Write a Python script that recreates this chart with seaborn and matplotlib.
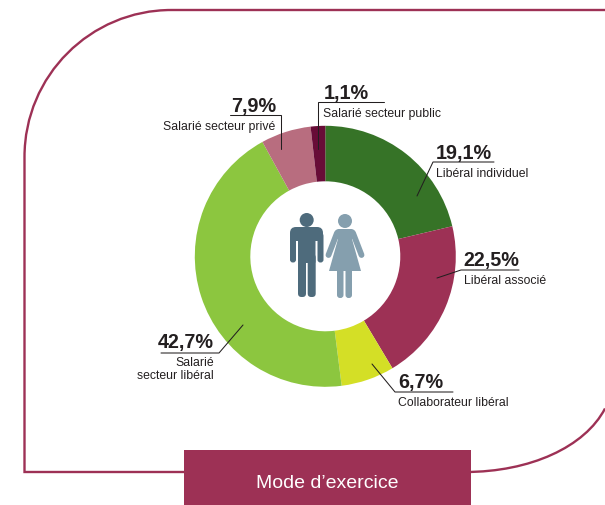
import seaborn as sns
import matplotlib.pyplot as plt
from matplotlib.patches import Circle, FancyBboxPatch, PathPatch, Polygon, Rectangle
from matplotlib.path import Path

# donut data, clockwise from 12 o'clock
# the drawn slices differ a little from the printed percentages, so both are kept
categories = ['Libéral individuel', 'Libéral associé', 'Collaborateur libéral',
              'Salarié secteur libéral', 'Salarié secteur privé', 'Salarié secteur public']
drawn_shares = [21.3, 20.1, 6.6, 44.0, 6.2, 1.8]
share_labels = ['19,1%', '22,5%', '6,7%', '42,7%', '7,9%', '1,1%']
colors = ['#367327', '#9d3155', '#d4df26', '#8cc63f', '#b86d7f', '#680c37']
title = 'Mode d\u2019exercice'

sns.set_theme(style='white')
plt.rcParams['font.family'] = ['Liberation Sans', 'DejaVu Sans']

W, H = 605, 506
CRIMSON = '#9d3155'
INK = '#231f20'
fs_value = 14.2
fs_name = 8.8
fig = plt.figure(figsize=(W / 100, H / 100), dpi=100)
ax = fig.add_axes([0, 0, 1, 1])

# y axis points down so everything is in pixels
cx, cy, R = 325.3, 257.3, 130.5
ax.pie(drawn_shares, colors=colors, startangle=-90, counterclock=True, center=(cx, cy),
       radius=R, frame=True, wedgeprops=dict(width=R - 75, linewidth=0))
ax.set_xlim(0, W)
ax.set_ylim(H, 0)
ax.axis('off')

# frame: two separate paths, agg drops line segments that leave the canvas
k = 0.5523
r1 = 147
verts = [(190, 473), (24.5, 473), (24.5, 11 + r1),
         (24.5, 11 + r1 - k * r1), (24.5 + r1 - k * r1, 11), (24.5 + r1, 11),
         (W, 11)]
codes = [Path.MOVETO, Path.LINETO, Path.LINETO, Path.CURVE4, Path.CURVE4, Path.CURVE4, Path.LINETO]
ax.add_patch(PathPatch(Path(verts, codes), fc='none', ec=CRIMSON, lw=1.7, zorder=0))
verts = [(W, 409.5), (585, 448), (530, 473), (465, 473)]
codes = [Path.MOVETO, Path.CURVE4, Path.CURVE4, Path.CURVE4]
ax.add_patch(PathPatch(Path(verts, codes), fc='none', ec=CRIMSON, lw=1.7, zorder=0))

# title box
ax.add_patch(Rectangle((184, 451), 287, 60, fc=CRIMSON, ec='none', zorder=3))
ax.text(327, 483.5, title, color='white', fontsize=14, ha='center', va='center', zorder=4)

# leaders: points of the rule, value position, name position, alignment, name
leaders = [
    ([(417, 197), (433, 163), (494, 163)], (436, 159), (436, 174), 'left', categories[0]),
    ([(437, 279), (461, 271), (519, 271)], (463, 266), (464, 281), 'left', categories[1]),
    ([(372, 365), (395, 393), (453, 393)], (398, 388), (398, 403), 'left', categories[2]),
    ([(243, 326), (219, 354), (161, 354)], (214, 348), None, 'right', None),
    ([(281, 150), (281, 116), (230, 116)], (276, 112), (275, 127), 'right', categories[4]),
    ([(318, 150), (318, 103), (384, 103)], (324, 99), (323, 114), 'left', categories[5]),
]
for (points, value_xy, name_xy, align, name), label in zip(leaders, share_labels):
    xs, ys = zip(*points)
    ax.plot(xs, ys, color=INK, lw=0.75, zorder=5, solid_joinstyle='miter')
    ax.text(value_xy[0], value_xy[1], label, color=INK, fontsize=fs_value, fontweight='bold',
            ha=align, va='baseline', zorder=5)
    if name:
        ax.text(name_xy[0], name_xy[1], name, color=INK, fontsize=fs_name,
                ha=align, va='center', zorder=5)
ax.text(214, 363, 'Salarié', color=INK, fontsize=fs_name, ha='right', va='center', zorder=5)
ax.text(214, 376, 'secteur libéral', color=INK, fontsize=fs_name, ha='right', va='center', zorder=5)

# man icon
MAN = '#4e6b7c'
WOMAN = '#859fae'
def bar(x, y, w, h, r, color):
    ax.add_patch(FancyBboxPatch((x, y), w, h, boxstyle='round,pad=0,rounding_size=%s' % r,
                                fc=color, ec='none', zorder=5))

ax.add_patch(Circle((306.7, 221), 7, fc=MAN, ec='none', zorder=5))
bar(290, 228, 33, 14, 6, MAN)
bar(298, 232, 17.5, 32, 1, MAN)
bar(290, 234, 6, 29.5, 2.8, MAN)
bar(317.5, 234, 6, 29.5, 2.8, MAN)
bar(298, 255, 8, 43, 3.5, MAN)
bar(307.7, 255, 8, 43, 3.5, MAN)

# woman icon
ax.add_patch(Circle((345, 222), 7, fc=WOMAN, ec='none', zorder=5))
ax.add_patch(Polygon([(338, 232), (352, 232), (352, 240), (361, 272), (329, 272), (338, 240)],
                     fc=WOMAN, ec='none', zorder=5))
bar(335, 230, 20, 10, 4, WOMAN)
ax.plot([337, 328.5], [234, 256], color=WOMAN, lw=4.2, solid_capstyle='round', zorder=5)
ax.plot([353, 361.5], [234, 256], color=WOMAN, lw=4.2, solid_capstyle='round', zorder=5)
bar(337, 268, 6.5, 31, 3, WOMAN)
bar(345.5, 268, 6.5, 31, 3, WOMAN)

fig.savefig('out.png', dpi=100, facecolor='white')
